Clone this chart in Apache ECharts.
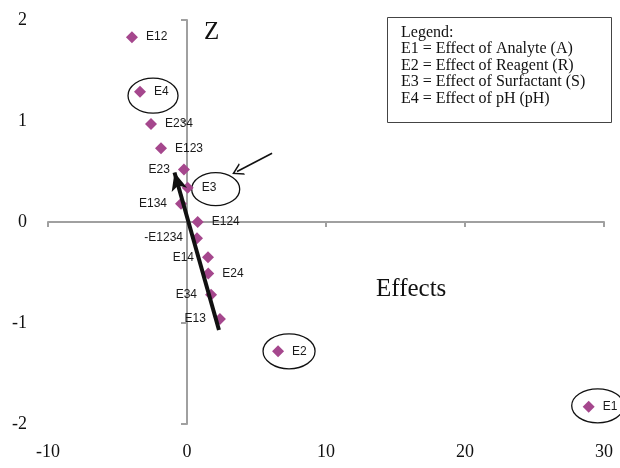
<!DOCTYPE html>
<html>
<head>
<meta charset="utf-8">
<script src="https://cdn.jsdelivr.net/npm/echarts@6/dist/echarts.min.js"></script>
<style>
html,body{margin:0;padding:0;background:#fff;}
#chart{width:620px;height:468px;}
</style>
</head>
<body>
<div id="chart"></div>
<script>
// ---- data ----
const effectNames = ['E12','E4','E234','E123','E23','E3','E134','E124','-E1234','E14','E24','E34','E13','E2','E1'];
const effectValues = [-3.96,-3.38,-2.59,-1.87,-0.22,0.05,-0.43,0.77,0.72,1.51,1.53,1.73,2.37,6.55,28.9];
const zValues = [1.83,1.29,0.97,0.73,0.52,0.34,0.18,0.00,-0.16,-0.35,-0.51,-0.72,-0.96,-1.28,-1.83];
const xTicks = [-10, 0, 10, 20, 30];
const yTicks = [-2, -1, 0, 1, 2];
const circledEffects = ['E4','E3','E2','E1'];
const trendArrowFrom = [2.30, -1.07];
const trendArrowTo = [-0.90, 0.49];
const pointerArrowFrom = [6.12, 0.68];
const pointerArrowTo = [3.60, 0.50];
const legendLines = ['Legend:','E1 = Effect of Analyte (A)','E2 = Effect of Reagent (R)','E3 = Effect of Surfactant (S)','E4 = Effect of pH (pH)'];

// ---- styles (not data) ----
const leftLabelled = ['E23','E134','-E1234','E14','E34','E13'];
const ellipseStyle = { // pixel offsets / radii relative to the marked point
  'E4': {dx:13, dy:4, rx:25, ry:17.5},
  'E3': {dx:28, dy:1.5, rx:24, ry:16.5},
  'E2': {dx:11, dy:0, rx:26, ry:17.5},
  'E1': {dx:9, dy:-1, rx:26, ry:17}
};
const serif = '"Liberation Serif", "Times New Roman", serif';
const axisGray = '#a0a0a0';

const points = effectNames.map((n, i) => ({
  name: n,
  value: [effectValues[i], zValues[i]],
  label: { position: leftLabelled.includes(n) ? 'left' : 'right' }
}));
const circled = circledEffects.map(n => {
  const i = effectNames.indexOf(n);
  return { name: n, value: [effectValues[i], zValues[i]] };
});

const chart = echarts.init(document.getElementById('chart'), null, {renderer:'canvas'});
chart.setOption({
  animation: false,
  backgroundColor: '#ffffff',
  grid: { left: 48, right: 16, top: 20, bottom: 44, containLabel: false, outerBoundsMode: 'none' },
  xAxis: [
    { type:'value', min: xTicks[0], max: xTicks[xTicks.length-1], interval: 10, position:'bottom',
      axisLine:{show:false, onZero:false}, axisTick:{show:false}, splitLine:{show:false},
      axisLabel:{ fontFamily: serif, fontSize: 18, color:'#111', margin: 19 } },
    { type:'value', min: xTicks[0], max: xTicks[xTicks.length-1], interval: 10, position:'bottom',
      axisLine:{show:true, onZero:true, onZeroAxisIndex:0, lineStyle:{color:axisGray, width:2}},
      axisTick:{show:true, length:5, lineStyle:{color:axisGray, width:2}},
      axisLabel:{show:false}, splitLine:{show:false} }
  ],
  yAxis: [
    { type:'value', min: yTicks[0], max: yTicks[yTicks.length-1], interval: 1, position:'left',
      axisLine:{show:false, onZero:false}, axisTick:{show:false}, splitLine:{show:false},
      axisLabel:{ fontFamily: serif, fontSize: 18, color:'#111', margin: 21 } },
    { type:'value', min: yTicks[0], max: yTicks[yTicks.length-1], interval: 1, position:'left',
      axisLine:{show:true, onZero:true, onZeroAxisIndex:0, lineStyle:{color:axisGray, width:2}},
      axisTick:{show:true, length:6, lineStyle:{color:axisGray, width:2}},
      axisLabel:{show:false}, splitLine:{show:false} }
  ],
  graphic: [
    { type:'text', left: 204, top: 20, style:{ text:'Z', font:'25px ' + serif, fill:'#111' } },
    { type:'text', left: 376, top: 277, style:{ text:'Effects', font:'25px ' + serif, fill:'#111' } },
    { type:'rect', left: 387, top: 17, shape:{ width: 224, height: 105 },
      style:{ fill:'#fff', stroke:'#444', lineWidth:1 } },
    { type:'text', left: 401, top: 24, style:{ text: legendLines.join('\n'), font:'16px ' + serif,
      lineHeight: 16.6, fill:'#111' } }
  ],
  series: [
    { type:'scatter', xAxisIndex:0, yAxisIndex:0, symbol:'diamond', symbolSize:12,
      itemStyle:{ color:'#a5478d', opacity:1 },
      label:{ show:true, formatter:'{b}', distance:8, fontFamily:'"Liberation Sans", Arial, sans-serif',
        fontSize:12, color:'#1a1a1a', opacity:1 },
      emphasis:{ disabled:true },
      data: points, z: 3 },
    { type:'custom', xAxisIndex:0, yAxisIndex:0, clip:false, silent:true, z: 2,
      renderItem: function(params, api){
        const p = api.coord([api.value(0), api.value(1)]);
        const st = ellipseStyle[circled[params.dataIndex].name];
        return { type:'ellipse', shape:{ cx:p[0]+st.dx, cy:p[1]+st.dy, rx:st.rx, ry:st.ry },
          style:{ fill:'none', stroke:'#111', lineWidth:1.3 } };
      },
      data: circled },
    { type:'scatter', xAxisIndex:0, yAxisIndex:0, data: [], silent:true,
      markLine:{ silent:true, animation:false, label:{show:false}, emphasis:{disabled:true},
        data: [
          [ { coord: trendArrowFrom, symbol:'none', lineStyle:{ color:'#111', width:4, type:'solid' } },
            { coord: trendArrowTo, symbol:'arrow', symbolSize:[12,18] } ],
          [ { coord: pointerArrowFrom, symbol:'none', lineStyle:{ color:'#111', width:1.6, type:'solid' } },
            { coord: pointerArrowTo, symbol:'path://M0,12 L6,0 L12,12 L10.4,12 L6,3.2 L1.6,12 Z', symbolSize:[13,11] } ]
        ] } }
  ]
});
</script>
</body>
</html>
